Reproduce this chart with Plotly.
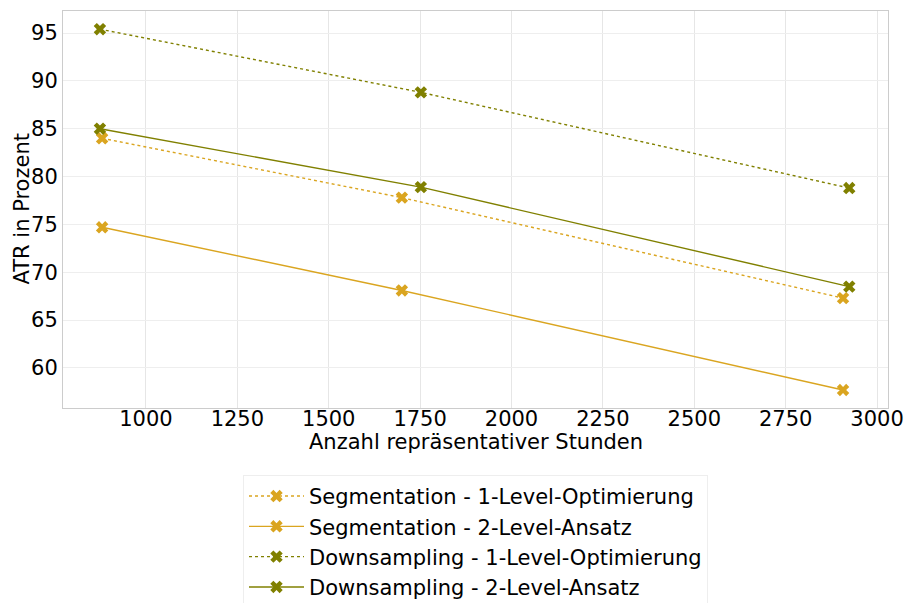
import plotly.graph_objects as go

series_names = [
    "Segmentation - 1-Level-Optimierung",
    "Segmentation - 2-Level-Ansatz",
    "Downsampling - 1-Level-Optimierung",
    "Downsampling - 2-Level-Ansatz",
]
seg_x = [880, 1700, 2907]
down_x = [874, 1752, 2924]
seg_1level = [84.0, 77.8, 67.3]
seg_2level = [74.7, 68.1, 57.7]
down_1level = [95.4, 88.8, 78.8]
down_2level = [85.0, 78.9, 68.5]

gold = "#DAA520"
olive = "#808000"

fig = go.Figure()
specs = [
    (seg_x, seg_1level, gold, "dot"),
    (seg_x, seg_2level, gold, "solid"),
    (down_x, down_1level, olive, "dot"),
    (down_x, down_2level, olive, "solid"),
]
for name, (xs, ys, col, dash) in zip(series_names, specs):
    fig.add_trace(go.Scatter(
        x=xs, y=ys, name=name, mode="lines+markers",
        line=dict(color=col, width=1.4, dash=dash),
        marker=dict(symbol="x", size=11, color=col),
    ))

font_family = "DejaVu Sans"
fs = 21
fig.update_layout(
    width=907, height=603,
    margin=dict(l=63, r=19, t=11, b=195, autoexpand=False),
    paper_bgcolor="white", plot_bgcolor="white",
    font=dict(family=font_family, size=fs, color="black"),
    xaxis=dict(
        range=[773, 3030], tickvals=[1000, 1250, 1500, 1750, 2000, 2250, 2500, 2750, 3000],
        showgrid=True, gridcolor="#e6e6e6", gridwidth=1,
        showline=True, linecolor="#cccccc", linewidth=1, mirror=True,
        zeroline=False, ticks="", tickfont=dict(size=fs), automargin=False,
        ticklabelstandoff=-8,
    ),
    yaxis=dict(
        range=[55.82, 97.3], tickvals=[60, 65, 70, 75, 80, 85, 90, 95],
        showgrid=True, gridcolor="#eeeeee", gridwidth=1,
        showline=True, linecolor="#cccccc", linewidth=1, mirror=True,
        zeroline=False, ticks="", tickfont=dict(size=fs), automargin=False,
    ),
    legend=dict(
        x=0.5, xanchor="center", y=-0.1685, yanchor="top",
        bordercolor="#eeeeee", borderwidth=1, bgcolor="white",
        font=dict(size=fs), orientation="v", itemwidth=55,
    ),
    showlegend=True,
    annotations=[
        dict(text="Anzahl repräsentativer Stunden", xref="paper", yref="paper",
             x=0.5, y=-0.0856, xanchor="center", yanchor="middle",
             showarrow=False, font=dict(size=fs)),
        dict(text="ATR in Prozent", xref="paper", yref="paper",
             x=-0.0509, y=0.5, xanchor="center", yanchor="middle", textangle=-90,
             showarrow=False, font=dict(size=fs)),
    ],
)

fig.write_html("out.html")
